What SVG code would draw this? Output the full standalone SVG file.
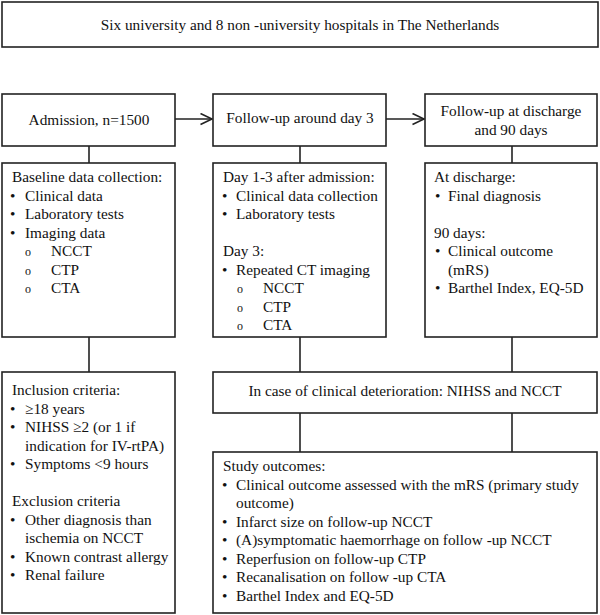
<svg xmlns="http://www.w3.org/2000/svg" width="600" height="615" viewBox="0 0 600 615">
<defs>
<style>
.box{fill:#fff;stroke:#222;stroke-width:1.6}
.ln{stroke:#222;stroke-width:1.6;fill:none}
text{font-size:15.3px;fill:#111}
.c{text-anchor:middle}
.o{font-size:12px}
</style>
<marker id="ah" markerUnits="userSpaceOnUse" markerWidth="14" markerHeight="14" refX="12.5" refY="6" orient="auto">
<path d="M1,0.5 L12.5,6 L1,11.5" fill="none" stroke="#222" stroke-width="1.6"/>
</marker>
</defs>
<rect width="600" height="615" fill="#fff"/>

<g id="connectors">
<line class="ln" x1="175" y1="119" x2="212" y2="119" marker-end="url(#ah)"/>
<line class="ln" x1="386" y1="119" x2="424" y2="119" marker-end="url(#ah)"/>
<line class="ln" x1="89" y1="146" x2="89" y2="163"/>
<line class="ln" x1="300" y1="146" x2="300" y2="163"/>
<line class="ln" x1="512" y1="146" x2="512" y2="163"/>
<line class="ln" x1="89" y1="337" x2="89" y2="372"/>
<line class="ln" x1="300" y1="337" x2="300" y2="372"/>
<line class="ln" x1="512" y1="337" x2="512" y2="372"/>
<line class="ln" x1="300" y1="413" x2="300" y2="452"/>
<line class="ln" x1="512" y1="413" x2="512" y2="452"/>
</g>

<g font-family="'Liberation Serif', 'Times New Roman', Tinos, serif">
<g id="hospitals">
<rect class="box" x="2" y="2" width="596" height="45"/>
<text class="c" x="300" y="30" font-size="15">Six university and 8 non -university hospitals in The Netherlands</text>
</g>

<g id="admission">
<rect class="box" x="2" y="94" width="173" height="52"/>
<text class="c" x="89" y="125">Admission, n=1500</text>
</g>

<g id="followup3">
<rect class="box" x="213" y="94" width="173" height="52"/>
<text class="c" x="300" y="123">Follow-up around day 3</text>
</g>

<g id="followup90">
<rect class="box" x="425" y="94" width="172" height="52"/>
<text class="c" x="511" y="116">Follow-up at discharge</text>
<text class="c" x="511" y="135">and 90 days</text>
</g>

<g id="baseline">
<rect class="box" x="2" y="163" width="173" height="174"/>
<text x="12" y="182">Baseline data collection:</text>
<text x="10" y="200.5">•</text><text x="25" y="200.5">Clinical data</text>
<text x="10" y="219">•</text><text x="25" y="219">Laboratory tests</text>
<text x="10" y="237.5">•</text><text x="25" y="237.5">Imaging data</text>
<text class="o" x="25" y="256">o</text><text x="51" y="256">NCCT</text>
<text class="o" x="25" y="274.5">o</text><text x="51" y="274.5">CTP</text>
<text class="o" x="25" y="293">o</text><text x="51" y="293">CTA</text>
</g>

<g id="day3">
<rect class="box" x="213" y="163" width="173" height="174"/>
<text x="223" y="182">Day 1-3 after admission:</text>
<text x="222" y="200.5">•</text><text x="236" y="200.5">Clinical data collection</text>
<text x="222" y="219">•</text><text x="236" y="219">Laboratory tests</text>
<text x="223" y="256">Day 3:</text>
<text x="222" y="274.5">•</text><text x="236" y="274.5">Repeated CT imaging</text>
<text class="o" x="237" y="293">o</text><text x="263" y="293">NCCT</text>
<text class="o" x="237" y="311.5">o</text><text x="263" y="311.5">CTP</text>
<text class="o" x="237" y="330">o</text><text x="263" y="330">CTA</text>
</g>

<g id="discharge">
<rect class="box" x="425" y="163" width="172" height="174"/>
<text x="434" y="182">At discharge:</text>
<text x="435" y="200.5">•</text><text x="448" y="200.5">Final diagnosis</text>
<text x="434" y="237.5">90 days:</text>
<text x="435" y="256">•</text><text x="448" y="256">Clinical outcome</text>
<text x="448" y="274.5">(mRS)</text>
<text x="435" y="293">•</text><text x="448" y="293">Barthel Index, EQ-5D</text>
</g>

<g id="criteria">
<rect class="box" x="2" y="372" width="173" height="241"/>
<text x="12" y="395">Inclusion criteria:</text>
<text x="10" y="413.5">•</text><text x="25" y="413.5">≥18 years</text>
<text x="10" y="432">•</text><text x="25" y="432">NIHSS ≥2 (or 1 if</text>
<text x="25" y="450.5">indication for IV-rtPA)</text>
<text x="10" y="469">•</text><text x="25" y="469">Symptoms &lt;9 hours</text>
<text x="12" y="506">Exclusion criteria</text>
<text x="10" y="524.5">•</text><text x="25" y="524.5">Other diagnosis than</text>
<text x="25" y="543">ischemia on NCCT</text>
<text x="10" y="561.5">•</text><text x="25" y="561.5">Known contrast allergy</text>
<text x="10" y="580">•</text><text x="25" y="580">Renal failure</text>
</g>

<g id="deterioration">
<rect class="box" x="213" y="372" width="384" height="41"/>
<text class="c" x="405" y="396">In case of clinical deterioration: NIHSS and NCCT</text>
</g>

<g id="outcomes">
<rect class="box" x="213" y="452" width="384" height="161"/>
<text x="223" y="471">Study outcomes:</text>
<text x="222" y="489.5">•</text><text x="236" y="489.5">Clinical outcome assessed with the mRS (primary study</text>
<text x="236" y="508">outcome)</text>
<text x="222" y="526.5">•</text><text x="236" y="526.5">Infarct size on follow-up NCCT</text>
<text x="222" y="545">•</text><text x="236" y="545">(A)symptomatic haemorrhage on follow -up NCCT</text>
<text x="222" y="563.5">•</text><text x="236" y="563.5">Reperfusion on follow-up CTP</text>
<text x="222" y="582">•</text><text x="236" y="582">Recanalisation on follow -up CTA</text>
<text x="222" y="600.5">•</text><text x="236" y="600.5">Barthel Index and EQ-5D</text>
</g>
</g>
</svg>
